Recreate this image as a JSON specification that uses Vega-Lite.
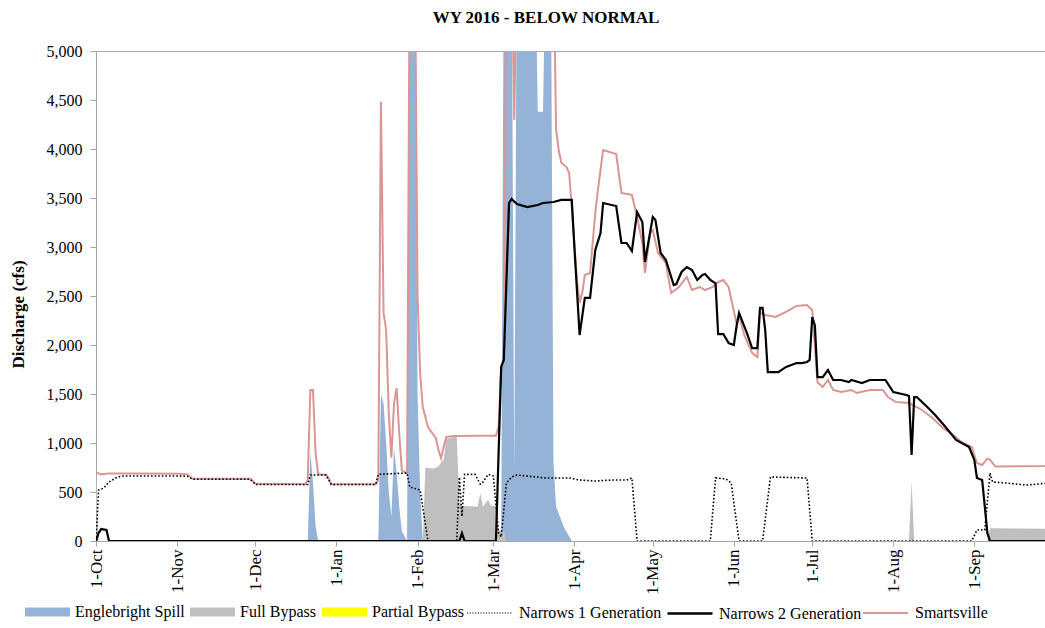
{
  "$schema": "https://vega.github.io/schema/vega-lite/v6.json",
  "width": 950,
  "height": 490,
  "autosize": "none",
  "padding": {"left": 96, "top": 51, "right": 0, "bottom": 87},
  "background": "white",
  "config": {"view": {"stroke": "#A6A6A6", "strokeWidth": 1}},
  "title": {"text": "WY 2016 - BELOW NORMAL", "font": "Liberation Serif", "fontSize": 17, "fontWeight": "bold", "color": "black", "anchor": "middle", "frame": "group", "dx": -25, "offset": 3, "baseline": "alphabetic"},
  "resolve": {"scale": {"color": "independent"}, "legend": {"color": "independent"}},
  "datasets": {
    "spill": [
      {"d": "2015-10-01", "v": 0}, {"d": "2015-12-21", "v": 0}, {"d": "2015-12-22", "v": 900}, {"d": "2015-12-23", "v": 600}, {"d": "2015-12-24", "v": 150}, {"d": "2015-12-25", "v": 0},
      {"d": "2016-01-17", "v": 0}, {"d": "2016-01-18", "v": 1500}, {"d": "2016-01-19", "v": 1400}, {"d": "2016-01-20", "v": 1000}, {"d": "2016-01-21", "v": 500}, {"d": "2016-01-22", "v": 250}, {"d": "2016-01-23", "v": 950}, {"d": "2016-01-24", "v": 700}, {"d": "2016-01-25", "v": 350}, {"d": "2016-01-26", "v": 100}, {"d": "2016-01-28", "v": 0},
      {"d": "2016-01-29", "v": 6000}, {"d": "2016-01-31", "v": 6000}, {"d": "2016-02-01", "v": 1500}, {"d": "2016-02-02", "v": 500}, {"d": "2016-02-03", "v": 0},
      {"d": "2016-03-04", "v": 0}, {"d": "2016-03-05", "v": 6000}, {"d": "2016-03-08", "v": 6000}, {"d": "2016-03-09", "v": 700}, {"d": "2016-03-10", "v": 6000}, {"d": "2016-03-17", "v": 6000}, {"d": "2016-03-18", "v": 4380}, {"d": "2016-03-20", "v": 4380}, {"d": "2016-03-21", "v": 6000}, {"d": "2016-03-23", "v": 6000}, {"d": "2016-03-24", "v": 800}, {"d": "2016-03-25", "v": 350}, {"d": "2016-03-28", "v": 140}, {"d": "2016-03-31", "v": 0},
      {"d": "2016-09-30", "v": 0}
    ],
    "bypass": [
      {"d": "2015-10-01", "v": 690}, {"d": "2015-10-02", "v": 0}, {"d": "2016-02-03", "v": 0}, {"d": "2016-02-04", "v": 750}, {"d": "2016-02-07", "v": 740}, {"d": "2016-02-09", "v": 760}, {"d": "2016-02-10", "v": 800}, {"d": "2016-02-11", "v": 830}, {"d": "2016-02-12", "v": 1040}, {"d": "2016-02-15", "v": 1061}, {"d": "2016-02-16", "v": 1061}, {"d": "2016-02-17", "v": 400}, {"d": "2016-02-18", "v": 360}, {"d": "2016-02-24", "v": 350}, {"d": "2016-02-25", "v": 490}, {"d": "2016-02-26", "v": 350}, {"d": "2016-02-28", "v": 420}, {"d": "2016-02-29", "v": 360}, {"d": "2016-03-02", "v": 360}, {"d": "2016-03-03", "v": 110}, {"d": "2016-03-05", "v": 110}, {"d": "2016-03-06", "v": 0},
      {"d": "2016-08-07", "v": 0}, {"d": "2016-08-08", "v": 602}, {"d": "2016-08-09", "v": 0}, {"d": "2016-09-06", "v": 0}, {"d": "2016-09-07", "v": 130}, {"d": "2016-09-30", "v": 125}
    ],
    "partial": [
      {"d": "2015-10-01", "v": 0}, {"d": "2016-09-30", "v": 0}
    ],
    "n1": [
      {"d": "2015-10-01", "v": 0}, {"d": "2015-10-02", "v": 520}, {"d": "2015-10-04", "v": 540}, {"d": "2015-10-06", "v": 602}, {"d": "2015-10-09", "v": 650}, {"d": "2015-10-11", "v": 663}, {"d": "2015-11-02", "v": 663}, {"d": "2015-11-05", "v": 660}, {"d": "2015-11-07", "v": 630}, {"d": "2015-11-29", "v": 630}, {"d": "2015-12-01", "v": 577}, {"d": "2015-12-21", "v": 577}, {"d": "2015-12-22", "v": 673}, {"d": "2015-12-28", "v": 673}, {"d": "2015-12-30", "v": 577},
      {"d": "2016-01-16", "v": 577}, {"d": "2016-01-17", "v": 680}, {"d": "2016-01-28", "v": 694}, {"d": "2016-01-29", "v": 551}, {"d": "2016-02-02", "v": 520}, {"d": "2016-02-05", "v": 0}, {"d": "2016-02-16", "v": 0}, {"d": "2016-02-17", "v": 650}, {"d": "2016-02-18", "v": 250}, {"d": "2016-02-19", "v": 680}, {"d": "2016-02-23", "v": 680}, {"d": "2016-02-25", "v": 580}, {"d": "2016-02-26", "v": 600}, {"d": "2016-02-28", "v": 680},
      {"d": "2016-03-01", "v": 663}, {"d": "2016-03-03", "v": 82}, {"d": "2016-03-04", "v": 41}, {"d": "2016-03-06", "v": 592}, {"d": "2016-03-08", "v": 653}, {"d": "2016-03-10", "v": 673}, {"d": "2016-03-21", "v": 643}, {"d": "2016-03-30", "v": 643}, {"d": "2016-04-03", "v": 622}, {"d": "2016-04-09", "v": 612}, {"d": "2016-04-15", "v": 622}, {"d": "2016-04-21", "v": 622}, {"d": "2016-04-23", "v": 643}, {"d": "2016-04-25", "v": 0},
      {"d": "2016-05-23", "v": 0}, {"d": "2016-05-25", "v": 643}, {"d": "2016-05-29", "v": 633}, {"d": "2016-05-31", "v": 592}, {"d": "2016-06-03", "v": 0}, {"d": "2016-06-12", "v": 0}, {"d": "2016-06-15", "v": 653}, {"d": "2016-06-29", "v": 643}, {"d": "2016-07-01", "v": 0},
      {"d": "2016-08-31", "v": 0}, {"d": "2016-09-02", "v": 112}, {"d": "2016-09-05", "v": 112}, {"d": "2016-09-07", "v": 694}, {"d": "2016-09-08", "v": 602}, {"d": "2016-09-13", "v": 592}, {"d": "2016-09-21", "v": 571}, {"d": "2016-09-30", "v": 592}
    ],
    "n2": [
      {"d": "2015-10-01", "v": 0}, {"d": "2015-10-02", "v": 82}, {"d": "2015-10-03", "v": 122}, {"d": "2015-10-05", "v": 112}, {"d": "2015-10-06", "v": 0}, {"d": "2016-02-17", "v": 0}, {"d": "2016-02-18", "v": 80}, {"d": "2016-02-19", "v": 0}, {"d": "2016-03-02", "v": 0},
      {"d": "2016-03-04", "v": 1776}, {"d": "2016-03-05", "v": 1847}, {"d": "2016-03-07", "v": 3449}, {"d": "2016-03-08", "v": 3490}, {"d": "2016-03-10", "v": 3439}, {"d": "2016-03-14", "v": 3408}, {"d": "2016-03-18", "v": 3429}, {"d": "2016-03-20", "v": 3449}, {"d": "2016-03-24", "v": 3459}, {"d": "2016-03-27", "v": 3480}, {"d": "2016-03-31", "v": 3480},
      {"d": "2016-04-01", "v": 3000}, {"d": "2016-04-03", "v": 2102}, {"d": "2016-04-05", "v": 2480}, {"d": "2016-04-07", "v": 2480}, {"d": "2016-04-09", "v": 2969}, {"d": "2016-04-11", "v": 3143}, {"d": "2016-04-12", "v": 3449}, {"d": "2016-04-17", "v": 3418}, {"d": "2016-04-19", "v": 3041}, {"d": "2016-04-21", "v": 3041}, {"d": "2016-04-23", "v": 2959}, {"d": "2016-04-25", "v": 3357}, {"d": "2016-04-27", "v": 3255}, {"d": "2016-04-28", "v": 2847},
      {"d": "2016-05-01", "v": 3306}, {"d": "2016-05-02", "v": 3276}, {"d": "2016-05-04", "v": 2939}, {"d": "2016-05-06", "v": 2867}, {"d": "2016-05-09", "v": 2612}, {"d": "2016-05-10", "v": 2622}, {"d": "2016-05-12", "v": 2745}, {"d": "2016-05-14", "v": 2796}, {"d": "2016-05-16", "v": 2765}, {"d": "2016-05-18", "v": 2663}, {"d": "2016-05-20", "v": 2714}, {"d": "2016-05-21", "v": 2724}, {"d": "2016-05-23", "v": 2663}, {"d": "2016-05-25", "v": 2630}, {"d": "2016-05-26", "v": 2110}, {"d": "2016-05-28", "v": 2112}, {"d": "2016-05-30", "v": 2020},
      {"d": "2016-06-01", "v": 2000}, {"d": "2016-06-02", "v": 2184}, {"d": "2016-06-03", "v": 2327}, {"d": "2016-06-06", "v": 2122}, {"d": "2016-06-08", "v": 1969}, {"d": "2016-06-10", "v": 1969}, {"d": "2016-06-11", "v": 2378}, {"d": "2016-06-12", "v": 2378}, {"d": "2016-06-13", "v": 2153}, {"d": "2016-06-14", "v": 1724}, {"d": "2016-06-18", "v": 1724}, {"d": "2016-06-21", "v": 1776}, {"d": "2016-06-25", "v": 1816}, {"d": "2016-06-27", "v": 1816}, {"d": "2016-06-29", "v": 1827}, {"d": "2016-06-30", "v": 1847},
      {"d": "2016-07-01", "v": 2286}, {"d": "2016-07-02", "v": 2200}, {"d": "2016-07-03", "v": 1673}, {"d": "2016-07-05", "v": 1673}, {"d": "2016-07-07", "v": 1745}, {"d": "2016-07-09", "v": 1643}, {"d": "2016-07-12", "v": 1643}, {"d": "2016-07-15", "v": 1622}, {"d": "2016-07-16", "v": 1643}, {"d": "2016-07-20", "v": 1612}, {"d": "2016-07-23", "v": 1643}, {"d": "2016-07-26", "v": 1643}, {"d": "2016-07-29", "v": 1643},
      {"d": "2016-08-01", "v": 1520}, {"d": "2016-08-06", "v": 1490}, {"d": "2016-08-07", "v": 1480}, {"d": "2016-08-08", "v": 878}, {"d": "2016-08-09", "v": 1469}, {"d": "2016-08-10", "v": 1469}, {"d": "2016-08-14", "v": 1367}, {"d": "2016-08-17", "v": 1286}, {"d": "2016-08-21", "v": 1163}, {"d": "2016-08-25", "v": 1031}, {"d": "2016-08-30", "v": 959},
      {"d": "2016-09-01", "v": 827}, {"d": "2016-09-02", "v": 643}, {"d": "2016-09-04", "v": 622}, {"d": "2016-09-06", "v": 80}, {"d": "2016-09-07", "v": 0}, {"d": "2016-09-30", "v": 0}
    ],
    "smart": [
      {"d": "2015-10-01", "v": 700}, {"d": "2015-10-03", "v": 680}, {"d": "2015-10-06", "v": 690}, {"d": "2015-10-16", "v": 690}, {"d": "2015-11-02", "v": 685}, {"d": "2015-11-05", "v": 680}, {"d": "2015-11-07", "v": 635}, {"d": "2015-11-29", "v": 635}, {"d": "2015-12-01", "v": 585}, {"d": "2015-12-20", "v": 580}, {"d": "2015-12-21", "v": 620}, {"d": "2015-12-22", "v": 1540}, {"d": "2015-12-23", "v": 1540}, {"d": "2015-12-24", "v": 900}, {"d": "2015-12-25", "v": 680}, {"d": "2015-12-28", "v": 675}, {"d": "2015-12-29", "v": 640}, {"d": "2015-12-30", "v": 580},
      {"d": "2016-01-16", "v": 580}, {"d": "2016-01-17", "v": 620}, {"d": "2016-01-18", "v": 4483}, {"d": "2016-01-19", "v": 2330}, {"d": "2016-01-20", "v": 2150}, {"d": "2016-01-21", "v": 1300}, {"d": "2016-01-22", "v": 850}, {"d": "2016-01-23", "v": 1400}, {"d": "2016-01-24", "v": 1560}, {"d": "2016-01-25", "v": 1100}, {"d": "2016-01-26", "v": 720}, {"d": "2016-01-28", "v": 690}, {"d": "2016-01-29", "v": 6000}, {"d": "2016-01-31", "v": 6000},
      {"d": "2016-02-01", "v": 2500}, {"d": "2016-02-02", "v": 1714}, {"d": "2016-02-03", "v": 1367}, {"d": "2016-02-05", "v": 1163}, {"d": "2016-02-08", "v": 1051}, {"d": "2016-02-09", "v": 929}, {"d": "2016-02-10", "v": 847}, {"d": "2016-02-11", "v": 959}, {"d": "2016-02-12", "v": 1061}, {"d": "2016-02-15", "v": 1071}, {"d": "2016-02-23", "v": 1075},
      {"d": "2016-03-02", "v": 1075}, {"d": "2016-03-03", "v": 1163}, {"d": "2016-03-04", "v": 1776}, {"d": "2016-03-05", "v": 1850}, {"d": "2016-03-06", "v": 6000}, {"d": "2016-03-08", "v": 6000}, {"d": "2016-03-09", "v": 4296}, {"d": "2016-03-10", "v": 6000}, {"d": "2016-03-24", "v": 6000}, {"d": "2016-03-25", "v": 4200}, {"d": "2016-03-26", "v": 3990}, {"d": "2016-03-27", "v": 3860}, {"d": "2016-03-29", "v": 3816}, {"d": "2016-03-30", "v": 3755}, {"d": "2016-03-31", "v": 3408},
      {"d": "2016-04-02", "v": 2663}, {"d": "2016-04-03", "v": 2429}, {"d": "2016-04-04", "v": 2531}, {"d": "2016-04-05", "v": 2714}, {"d": "2016-04-07", "v": 2735}, {"d": "2016-04-09", "v": 3347}, {"d": "2016-04-10", "v": 3582}, {"d": "2016-04-12", "v": 3990}, {"d": "2016-04-17", "v": 3949}, {"d": "2016-04-19", "v": 3551}, {"d": "2016-04-23", "v": 3531}, {"d": "2016-04-25", "v": 3306}, {"d": "2016-04-27", "v": 3041}, {"d": "2016-04-28", "v": 2735}, {"d": "2016-04-30", "v": 3143},
      {"d": "2016-05-01", "v": 3173}, {"d": "2016-05-03", "v": 2939}, {"d": "2016-05-06", "v": 2837}, {"d": "2016-05-08", "v": 2531}, {"d": "2016-05-11", "v": 2592}, {"d": "2016-05-14", "v": 2694}, {"d": "2016-05-16", "v": 2561}, {"d": "2016-05-19", "v": 2592}, {"d": "2016-05-21", "v": 2561}, {"d": "2016-05-24", "v": 2592}, {"d": "2016-05-26", "v": 2643}, {"d": "2016-05-28", "v": 2663}, {"d": "2016-05-30", "v": 2592},
      {"d": "2016-06-02", "v": 2224}, {"d": "2016-06-03", "v": 2300}, {"d": "2016-06-05", "v": 2100}, {"d": "2016-06-08", "v": 1920}, {"d": "2016-06-10", "v": 1878}, {"d": "2016-06-11", "v": 2327}, {"d": "2016-06-13", "v": 2306}, {"d": "2016-06-17", "v": 2286}, {"d": "2016-06-21", "v": 2337}, {"d": "2016-06-25", "v": 2398}, {"d": "2016-06-29", "v": 2408},
      {"d": "2016-07-01", "v": 2357}, {"d": "2016-07-03", "v": 1620}, {"d": "2016-07-05", "v": 1571}, {"d": "2016-07-07", "v": 1643}, {"d": "2016-07-09", "v": 1541}, {"d": "2016-07-12", "v": 1520}, {"d": "2016-07-16", "v": 1541}, {"d": "2016-07-18", "v": 1510}, {"d": "2016-07-23", "v": 1541}, {"d": "2016-07-28", "v": 1541}, {"d": "2016-07-30", "v": 1469},
      {"d": "2016-08-02", "v": 1418}, {"d": "2016-08-07", "v": 1408}, {"d": "2016-08-12", "v": 1337}, {"d": "2016-08-16", "v": 1255}, {"d": "2016-08-20", "v": 1153}, {"d": "2016-08-24", "v": 1082}, {"d": "2016-08-27", "v": 1010}, {"d": "2016-08-31", "v": 959},
      {"d": "2016-09-02", "v": 796}, {"d": "2016-09-04", "v": 776}, {"d": "2016-09-06", "v": 840}, {"d": "2016-09-07", "v": 830}, {"d": "2016-09-09", "v": 760}, {"d": "2016-09-28", "v": 765}, {"d": "2016-09-30", "v": 770}
    ]
  },
  "encoding": {
    "x": {
      "field": "d", "type": "temporal",
      "scale": {"type": "utc", "domain": [{"year": 2015, "month": 10, "date": 1, "utc": true}, {"year": 2016, "month": 9, "date": 28, "hours": 10, "utc": true}]},
      "axis": {
        "title": null, "labelExpr": "utcFormat(datum.value, '%-d-%b')", "labelAngle": -90, "labelPadding": 3,
        "values": [
          {"year": 2015, "month": 10, "date": 1, "utc": true}, {"year": 2015, "month": 11, "date": 1, "utc": true}, {"year": 2015, "month": 12, "date": 1, "utc": true},
          {"year": 2016, "month": 1, "date": 1, "utc": true}, {"year": 2016, "month": 2, "date": 1, "utc": true}, {"year": 2016, "month": 3, "date": 1, "utc": true},
          {"year": 2016, "month": 4, "date": 1, "utc": true}, {"year": 2016, "month": 5, "date": 1, "utc": true}, {"year": 2016, "month": 6, "date": 1, "utc": true},
          {"year": 2016, "month": 7, "date": 1, "utc": true}, {"year": 2016, "month": 8, "date": 1, "utc": true}, {"year": 2016, "month": 9, "date": 1, "utc": true}
        ],
        "grid": false, "domainColor": "#A6A6A6", "tickColor": "#A6A6A6", "tickSize": 5,
        "labelFont": "Liberation Serif", "labelFontSize": 17, "labelColor": "black", "labelOverlap": false
      }
    },
    "y": {
      "field": "v", "type": "quantitative",
      "scale": {"domain": [0, 5000], "nice": false},
      "axis": {
        "title": "Discharge (cfs)", "titleFont": "Liberation Serif", "titleFontSize": 17, "titleFontWeight": "bold", "titleColor": "black",
        "titleX": -78, "titleY": 263, "titleAngle": -90, "titleBaseline": "middle", "titleAlign": "center",
        "values": [0, 500, 1000, 1500, 2000, 2500, 3000, 3500, 4000, 4500, 5000], "labelExpr": "format(datum.value, ',')",
        "grid": false, "domainColor": "#A6A6A6", "tickColor": "#A6A6A6", "tickSize": 6, "labelPadding": 8,
        "labelFont": "Liberation Serif", "labelFontSize": 16, "labelColor": "black"
      }
    }
  },
  "layer": [
    {
      "data": {"name": "spill"},
      "mark": {"type": "area", "clip": true, "opacity": 1},
      "encoding": {
        "color": {
          "datum": "Englebright Spill", "type": "nominal", "scale": {"range": ["#95B3D7"]},
          "legend": {"title": null, "orient": "none", "legendX": -71, "legendY": 538.5, "padding": 0, "symbolSize": 2025, "symbolType": "M-1,-0.2H1V0.2H-1Z", "symbolStrokeWidth": 0, "symbolOpacity": 1, "labelOffset": 5, "labelFont": "Liberation Serif", "labelFontSize": 16, "labelColor": "black"}
        }
      }
    },
    {
      "data": {"name": "bypass"},
      "mark": {"type": "area", "clip": true, "opacity": 1},
      "encoding": {
        "color": {
          "datum": "Full Bypass", "type": "nominal", "scale": {"range": ["#BFBFBF"]},
          "legend": {"title": null, "orient": "none", "legendX": 94, "legendY": 538.5, "padding": 0, "symbolSize": 2025, "symbolType": "M-1,-0.2H1V0.2H-1Z", "symbolStrokeWidth": 0, "symbolOpacity": 1, "labelOffset": 5, "labelFont": "Liberation Serif", "labelFontSize": 16, "labelColor": "black"}
        }
      }
    },
    {
      "data": {"name": "partial"},
      "mark": {"type": "area", "clip": true, "opacity": 1},
      "encoding": {
        "color": {
          "datum": "Partial Bypass", "type": "nominal", "scale": {"range": ["#FFFF00"]},
          "legend": {"title": null, "orient": "none", "legendX": 226, "legendY": 538.5, "padding": 0, "symbolSize": 2025, "symbolType": "M-1,-0.2H1V0.2H-1Z", "symbolStrokeWidth": 0, "symbolOpacity": 1, "labelOffset": 5, "labelFont": "Liberation Serif", "labelFontSize": 16, "labelColor": "black"}
        }
      }
    },
    {
      "data": {"name": "smart"},
      "mark": {"type": "line", "clip": true, "strokeWidth": 2},
      "encoding": {
        "color": {
          "datum": "Smartsville", "type": "nominal", "scale": {"range": ["#D99694"]},
          "legend": {"title": null, "orient": "none", "legendX": 766, "legendY": 538.5, "padding": 0, "symbolSize": 2025, "symbolType": "stroke", "symbolStrokeWidth": 2, "symbolOpacity": 1, "labelOffset": 6, "labelFont": "Liberation Serif", "labelFontSize": 16, "labelColor": "black"}
        }
      }
    },
    {
      "data": {"name": "n1"},
      "mark": {"type": "line", "clip": true, "strokeWidth": 1.6, "strokeDash": [1.6, 2]},
      "encoding": {
        "color": {
          "datum": "Narrows 1 Generation", "type": "nominal", "scale": {"range": ["#000000"]},
          "legend": {"title": null, "orient": "none", "legendX": 370, "legendY": 538.5, "padding": 0, "symbolSize": 2025, "symbolType": "stroke", "symbolStrokeWidth": 1.2, "symbolDash": [1.2, 1.5], "symbolOpacity": 1, "labelOffset": 6, "labelFont": "Liberation Serif", "labelFontSize": 16, "labelColor": "black"}
        }
      }
    },
    {
      "data": {"name": "n2"},
      "mark": {"type": "line", "clip": true, "strokeWidth": 2.2},
      "encoding": {
        "color": {
          "datum": "Narrows 2 Generation", "type": "nominal", "scale": {"range": ["#000000"]},
          "legend": {"title": null, "orient": "none", "legendX": 570, "legendY": 538.5, "padding": 0, "symbolSize": 2025, "symbolType": "stroke", "symbolStrokeWidth": 2.5, "symbolOpacity": 1, "labelOffset": 5, "labelFont": "Liberation Serif", "labelFontSize": 16, "labelColor": "black"}
        }
      }
    }
  ]
}
